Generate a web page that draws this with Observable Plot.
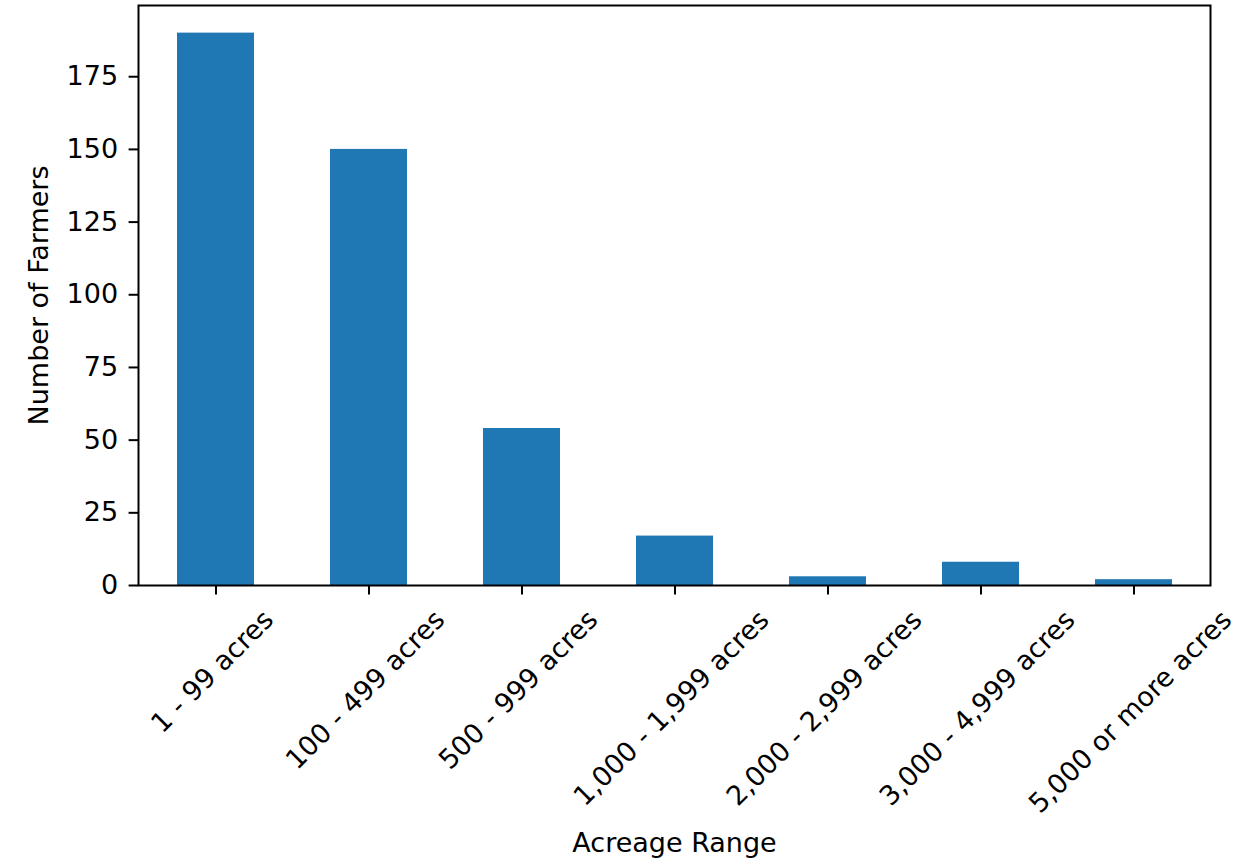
<!DOCTYPE html>
<html>
<head>
<meta charset="utf-8">
<script src="https://cdn.jsdelivr.net/npm/d3@7"></script>
<script src="https://cdn.jsdelivr.net/npm/@observablehq/plot@0.6"></script>
<style>
  html, body { margin: 0; padding: 0; background: white; }
</style>
</head>
<body>
<div id="chart"></div>
<script>
const categories = ["1 - 99 acres", "100 - 499 acres", "500 - 999 acres", "1,000 - 1,999 acres", "2,000 - 2,999 acres", "3,000 - 4,999 acres", "5,000 or more acres"];
const farmers = [190, 150, 54, 17, 3, 8, 2];
const yTicks = [0, 25, 50, 75, 100, 125, 150, 175];
const xTitle = "Acreage Range";
const yTitle = "Number of Farmers";

const data = categories.map((c, i) => ({category: c, value: farmers[i]}));

const FONT = "DejaVu Sans";
const FS = 27;
const ctx = document.createElement("canvas").getContext("2d");
ctx.font = `${FS}px "${FONT}"`;
const measure = (s) => ctx.measureText(s).width;

const tickLen = 9.4, pad = 9.4, lineH = 26.9;

const xLabelMarks = categories.map((c) => {
  const w = measure(c);
  return Plot.text([c], {
    x: (d) => d,
    frameAnchor: "bottom",
    dx: -3.5,
    dy: tickLen + pad + 1.5 + 0.3536 * (w + lineH),
    rotate: -45,
    textAnchor: "middle",
    lineAnchor: "middle",
    fill: "black"
  });
});

const chart = Plot.plot({
  width: 1239,
  height: 865,
  marginLeft: 138,
  marginRight: 29,
  marginTop: 5,
  marginBottom: 280,
  style: {fontFamily: FONT, fontSize: FS + "px", color: "black", background: "white"},
  x: {type: "band", domain: categories, paddingInner: 0.5, paddingOuter: 0.25, align: 0.5},
  y: {domain: [0, 199.5]},
  marks: [
    Plot.barY(data, {x: "category", y: "value", fill: "#1f77b4"}),
    Plot.axisY({ticks: yTicks, tickSize: tickLen, tickPadding: 11, strokeWidth: 2, label: null, fill: "black"}),
    Plot.axisX({tickSize: tickLen, strokeWidth: 2, tickFormat: () => "", label: null}),
    ...xLabelMarks,
    Plot.text([xTitle], {frameAnchor: "bottom", dy: 258, textAnchor: "middle", lineAnchor: "middle", fill: "black"}),
    Plot.text([yTitle], {frameAnchor: "left", dx: -99.5, rotate: -90, textAnchor: "middle", lineAnchor: "middle", fill: "black"}),
    Plot.frame({stroke: "black", strokeWidth: 2})
  ]
});
document.getElementById("chart").appendChild(chart);
</script>
</body>
</html>
